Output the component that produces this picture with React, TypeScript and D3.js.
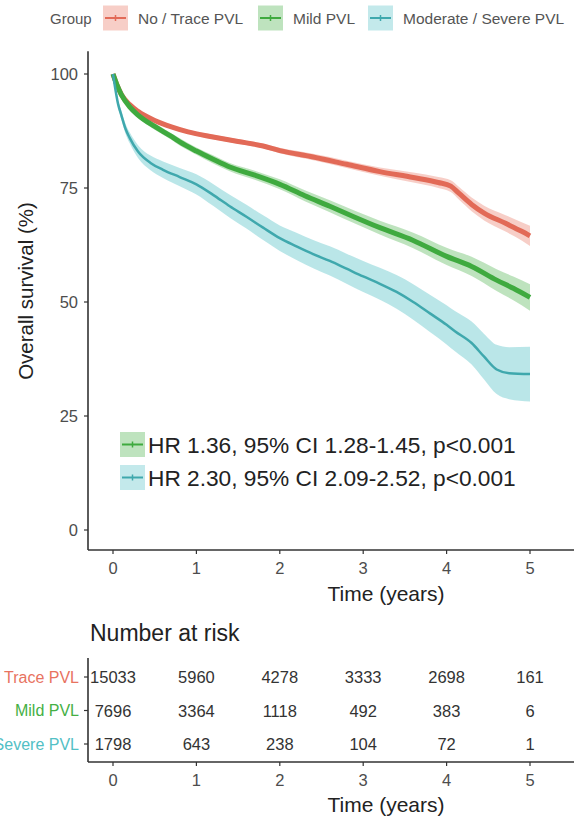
import * as d3 from 'd3'
import React from 'react'

// groups + colours
const groups = ['No / Trace PVL', 'Mild PVL', 'Moderate / Severe PVL']
const colors = ['#E8735F', '#45B045', '#52C0C5']
const lineColors = ['#E26A57', '#3FAA3F', '#3FA8AD']

// survival curves (time in years, survival %)
const redTime = [0, 0.05, 0.1, 0.2, 0.3, 0.5, 0.7, 0.9, 1.2, 1.5, 1.8, 2.0, 2.4, 2.8, 3.2, 3.6, 3.9, 4.05, 4.15, 4.3, 4.45, 4.7, 4.9, 5.0]
const redSurv = [100, 97.5, 95.5, 93.3, 91.8, 89.8, 88.4, 87.3, 86.2, 85.2, 84.2, 83.2, 81.8, 80.2, 78.6, 77.3, 76.2, 75.4, 73.8, 71.4, 69.5, 67.3, 65.5, 64.5]
const redLower = [100, 97.2, 95.2, 92.9, 91.4, 89.4, 88.0, 86.9, 85.7, 84.7, 83.7, 82.6, 81.1, 79.4, 77.7, 76.2, 75.0, 74.1, 72.4, 69.9, 67.9, 65.5, 63.5, 62.3]
const redUpper = [100, 97.8, 95.8, 93.7, 92.2, 90.2, 88.8, 87.7, 86.7, 85.7, 84.7, 83.8, 82.5, 81.0, 79.5, 78.4, 77.4, 76.7, 75.2, 72.9, 71.1, 69.1, 67.5, 66.7]

const greenTime = [0, 0.05, 0.1, 0.2, 0.3, 0.5, 0.7, 0.8, 1.0, 1.2, 1.4, 1.7, 2.0, 2.3, 2.6, 2.9, 3.2, 3.6, 4.0, 4.3, 4.6, 4.8, 5.0]
const greenSurv = [100, 97.5, 95.5, 92.8, 91, 88.5, 86.3, 85.1, 83.1, 81.3, 79.6, 77.8, 75.8, 73.3, 71, 68.6, 66.3, 63.5, 60, 57.8, 54.8, 53, 51]
const greenLower = [100, 97.1, 95.0, 92.2, 90.4, 87.8, 85.6, 84.3, 82.3, 80.4, 78.7, 76.8, 74.7, 72.1, 69.7, 67.2, 64.8, 61.8, 58.1, 55.7, 52.4, 50.4, 48.1]
const greenUpper = [100, 97.9, 96.0, 93.4, 91.6, 89.2, 87.0, 85.9, 83.9, 82.2, 80.5, 78.8, 76.9, 74.5, 72.3, 70.0, 67.8, 65.2, 61.9, 59.9, 57.2, 55.6, 53.9]

const cyanTime = [0, 0.03, 0.06, 0.1, 0.15, 0.2, 0.3, 0.45, 0.6, 0.8, 1.0, 1.2, 1.4, 1.6, 1.8, 2.0, 2.2, 2.4, 2.6, 2.8, 3.0, 3.2, 3.4, 3.6, 3.8, 4.0, 4.1, 4.3, 4.45, 4.6, 4.75, 5.0]
const cyanSurv = [100, 96.5, 93.5, 91, 88, 86, 83, 80.5, 79, 77.4, 75.8, 73.5, 71, 68.7, 66.3, 64, 62.2, 60.5, 59, 57.3, 55.6, 54, 52.2, 50, 47.5, 45, 43.6, 41, 38, 35.2, 34.4, 34.2]
const cyanLower = [100, 95.9, 92.7, 90.0, 86.9, 84.8, 81.6, 78.9, 77.2, 75.4, 73.6, 71.1, 68.5, 66.1, 63.6, 61.2, 59.2, 57.4, 55.8, 54.0, 52.2, 50.5, 48.5, 46.1, 43.4, 40.7, 39.2, 36.3, 33.0, 29.8, 28.7, 28.2]
const cyanUpper = [100, 97.1, 94.3, 92.0, 89.1, 87.2, 84.4, 82.1, 80.8, 79.4, 78.0, 75.9, 73.5, 71.3, 69.0, 66.8, 65.2, 63.6, 62.2, 60.6, 59.0, 57.5, 55.9, 53.9, 51.6, 49.3, 48.0, 45.7, 43.0, 40.6, 40.1, 40.2]

// number at risk table
const riskTimes = [0, 1, 2, 3, 4, 5]
const riskNoTrace = [15033, 5960, 4278, 3333, 2698, 161]
const riskMild = [7696, 3364, 1118, 492, 383, 6]
const riskSevere = [1798, 643, 238, 104, 72, 1]

const yTicks = [0, 25, 50, 75, 100]
const xTicks = [0, 1, 2, 3, 4, 5]
const hrLabels = ['HR 1.36, 95% CI 1.28-1.45, p<0.001', 'HR 2.30, 95% CI 2.09-2.52, p<0.001']

const font = '"Liberation Sans", Arial, sans-serif'

type Pt = { t: number; s: number; lo: number; hi: number }

const zip = (t: number[], s: number[], lo: number[], hi: number[]): Pt[] =>
    t.map((v, i) => ({ t: v, s: s[i], lo: lo[i], hi: hi[i] }))

const curves = [
    zip(redTime, redSurv, redLower, redUpper),
    zip(greenTime, greenSurv, greenLower, greenUpper),
    zip(cyanTime, cyanSurv, cyanLower, cyanUpper),
]
const riskRows = [riskNoTrace, riskMild, riskSevere]

// little legend key like ggplot (band + line with a censor cross)
function Key({ x, y, i }: { x: number; y: number; i: number }) {
    return (
        <g>
            <rect x={x} y={y - 12.5} width={25} height={25} fill={colors[i]} opacity={0.35} />
            <line x1={x + 2} x2={x + 23} y1={y} y2={y} stroke={lineColors[i]} strokeWidth={2} />
            <line x1={x + 12.5} x2={x + 12.5} y1={y - 3} y2={y + 3} stroke={lineColors[i]} strokeWidth={1.5} />
        </g>
    )
}

export default function App() {
    const W = 574
    const H = 817

    // main panel scales
    const x = d3.scaleLinear().domain([0, 5]).range([113, 530])
    const y = d3.scaleLinear().domain([0, 100]).range([530, 74])
    const axisLeft = 88
    const axisBottom = y(-4.4)

    const line = d3.line<Pt>().x(d => x(d.t)).y(d => y(d.s)).curve(d3.curveMonotoneX)
    const band = d3.area<Pt>().x(d => x(d.t)).y0(d => y(d.lo)).y1(d => y(d.hi)).curve(d3.curveMonotoneX)

    // risk table scales
    const rowY = d3.scalePoint<string>().domain(groups).range([677, 744])
    const riskBottom = 762

    const strokeW = [5, 5, 2.5]

    return (
        <svg width={W} height={H} style={{ position: 'absolute', left: 0, top: 0, background: '#fff' }} fontFamily={font}>
            {/* top legend */}
            <text x={50} y={18} fontSize={15} fill="#555" dominantBaseline="central">Group</text>
            {[103, 258, 368].map((kx, i) => (
                <g key={i}>
                    <Key x={kx} y={18} i={i} />
                    <text x={kx + 35} y={18} fontSize={15.5} fill="#555" dominantBaseline="central">{groups[i]}</text>
                </g>
            ))}

            {/* bands and curves */}
            {curves.map((c, i) => (
                <path key={'b' + i} d={band(c) || ''} fill={colors[i]} opacity={i === 2 ? 0.4 : 0.35} />
            ))}
            {curves.map((c, i) => (
                <path key={'l' + i} d={line(c) || ''} fill="none" stroke={lineColors[i]} strokeWidth={strokeW[i]} strokeLinejoin="round" />
            ))}

            {/* axes */}
            <line x1={axisLeft} x2={axisLeft} y1={y(105)} y2={axisBottom} stroke="#333" strokeWidth={1.6} />
            <line x1={axisLeft} x2={W} y1={axisBottom} y2={axisBottom} stroke="#333" strokeWidth={1.6} />
            {yTicks.map(v => (
                <g key={'yt' + v}>
                    <line x1={axisLeft - 4} x2={axisLeft} y1={y(v)} y2={y(v)} stroke="#333" strokeWidth={1.2} />
                    <text x={78} y={y(v)} fontSize={16.5} fill="#4d4d4d" textAnchor="end" dominantBaseline="central">{v}</text>
                </g>
            ))}
            {xTicks.map(v => (
                <g key={'xt' + v}>
                    <line x1={x(v)} x2={x(v)} y1={axisBottom} y2={axisBottom + 4} stroke="#333" strokeWidth={1.2} />
                    <text x={x(v)} y={568} fontSize={16.5} fill="#4d4d4d" textAnchor="middle" dominantBaseline="central">{v}</text>
                </g>
            ))}
            <text x={386} y={593} fontSize={21} fill="#222" textAnchor="middle" dominantBaseline="central">Time (years)</text>
            <text transform="translate(25,291) rotate(-90)" fontSize={20.5} fill="#222" textAnchor="middle" dominantBaseline="central">Overall survival (%)</text>

            {/* HR legend inside panel */}
            {hrLabels.map((lab, i) => (
                <g key={'hr' + i}>
                    <Key x={120} y={444.5 + i * 33} i={i + 1} />
                    <text x={148} y={444.5 + i * 33} fontSize={22.7} fill="#222" dominantBaseline="central">{lab}</text>
                </g>
            ))}

            {/* number at risk */}
            <text x={90} y={633} fontSize={23} fill="#222" dominantBaseline="central">Number at risk</text>
            <line x1={axisLeft} x2={axisLeft} y1={658} y2={riskBottom} stroke="#333" strokeWidth={1.6} />
            <line x1={axisLeft} x2={W} y1={riskBottom} y2={riskBottom} stroke="#333" strokeWidth={1.6} />
            {groups.map((g, i) => (
                <g key={'row' + i}>
                    <line x1={axisLeft - 4} x2={axisLeft} y1={rowY(g)} y2={rowY(g)} stroke="#333" strokeWidth={1.2} />
                    <text x={79} y={rowY(g)} fontSize={16} fill={colors[i]} textAnchor="end" dominantBaseline="central">{g}</text>
                    {riskRows[i].map((n, j) => (
                        <text key={j} x={x(riskTimes[j])} y={rowY(g)} fontSize={16.5} fill="#333" textAnchor="middle" dominantBaseline="central">{n}</text>
                    ))}
                </g>
            ))}
            {xTicks.map(v => (
                <g key={'rt' + v}>
                    <line x1={x(v)} x2={x(v)} y1={riskBottom} y2={riskBottom + 4} stroke="#333" strokeWidth={1.2} />
                    <text x={x(v)} y={780} fontSize={16.5} fill="#4d4d4d" textAnchor="middle" dominantBaseline="central">{v}</text>
                </g>
            ))}
            <text x={386} y={804} fontSize={21} fill="#222" textAnchor="middle" dominantBaseline="central">Time (years)</text>
        </svg>
    )
}
